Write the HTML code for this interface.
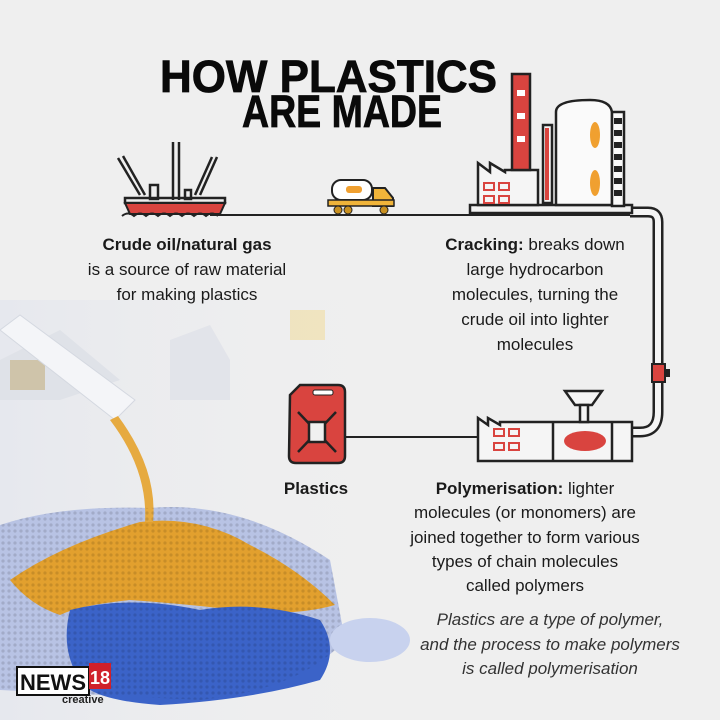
<!DOCTYPE html>
<html><head><meta charset="utf-8"><style>
html,body{margin:0;padding:0;background:#efefef}
svg{display:block}
text{font-family:"Liberation Sans",sans-serif}
</style></head><body>
<svg width="720" height="720" viewBox="0 0 720 720" xmlns="http://www.w3.org/2000/svg">
<defs>
<linearGradient id="fade" x1="0" y1="0" x2="1" y2="0"><stop offset="0" stop-color="#e6e8ee"/><stop offset="1" stop-color="#efefef" stop-opacity="0"/></linearGradient>
<pattern id="dots" width="6" height="6" patternUnits="userSpaceOnUse"><circle cx="3" cy="3" r="1.6" fill="#000" opacity="0.12"/></pattern>
</defs>
<rect width="720" height="720" fill="#efefef"/>
<rect x="0" y="300" width="420" height="420" fill="url(#fade)"/>
<polygon points="0,360 60,330 120,380 60,400 0,400" fill="#dfe2e8"/>
<polygon points="170,340 210,325 230,360 230,400 170,400" fill="#e2e4ea"/>
<rect x="10" y="360" width="35" height="30" fill="#c8b890" opacity="0.7"/>
<rect x="290" y="310" width="35" height="30" fill="#f0dca0" opacity="0.6"/>
<polygon points="0,330 20,315 135,400 115,420" fill="#f4f5f8" stroke="#d4d8e0"/>
<path d="M0,525 Q60,505 150,508 Q240,500 330,560 L345,640 Q300,690 200,700 L0,690 Z" fill="#b8c3e4"/>
<path d="M10,580 Q60,545 140,522 Q200,515 250,545 Q300,570 335,605 Q300,615 250,612 Q200,605 130,600 Q80,605 60,615 Q30,605 10,580 Z" fill="#e2a02e"/>
<path d="M145,522 Q148,470 110,420 L118,416 Q158,470 153,522 Z" fill="#e6aa40"/>
<path d="M70,610 Q130,595 200,610 Q260,600 320,620 Q340,650 320,680 Q250,700 160,705 Q90,700 80,680 Q60,650 70,610 Z" fill="#3b63c8"/>
<path d="M0,525 Q60,505 150,508 Q240,500 330,560 L345,640 Q300,690 200,700 L0,690 Z" fill="url(#dots)"/>
<ellipse cx="370" cy="640" rx="40" ry="22" fill="#c8d2ee"/>
<rect x="17" y="667" width="72" height="28" fill="#fff" stroke="#111" stroke-width="2"/>
<text x="20" y="690" font-size="22" font-weight="bold" fill="#111" textLength="66">NEWS</text>
<rect x="89" y="663" width="22" height="26" fill="#d0202a"/>
<text x="90" y="684" font-size="18" font-weight="bold" fill="#fff">18</text>
<text x="62" y="703" font-size="11" font-weight="bold" fill="#222">creative</text>

<text x="160" y="92" font-size="45" font-weight="bold" fill="#0a0a0a" textLength="337" lengthAdjust="spacingAndGlyphs" stroke="#0a0a0a" stroke-width="0.8">HOW PLASTICS</text>
<text x="242" y="127" font-size="45" font-weight="bold" fill="#0a0a0a" textLength="200" lengthAdjust="spacingAndGlyphs" stroke="#0a0a0a" stroke-width="0.8">ARE MADE</text>

<line x1="210" y1="215" x2="640" y2="215" stroke="#222" stroke-width="2"/>
<path d="M630,212 L648,212 Q658,212 658,222 L658,412 Q658,432 640,432 L630,432" fill="none" stroke="#222" stroke-width="11"/>
<path d="M630,212 L648,212 Q658,212 658,222 L658,412 Q658,432 640,432 L630,432" fill="none" stroke="#f4f4f4" stroke-width="6"/>
<rect x="652" y="364" width="13" height="18" fill="#d9443f" stroke="#222" stroke-width="2"/>
<rect x="665" y="369" width="5" height="8" fill="#222"/>

<g stroke="#222" stroke-width="2.5" fill="none">
<line x1="173" y1="142" x2="173" y2="200"/><line x1="179" y1="142" x2="179" y2="200"/>
<line x1="118" y1="158" x2="140" y2="195"/><line x1="123" y1="156" x2="145" y2="195"/>
<line x1="212" y1="157" x2="195" y2="195"/><line x1="217" y1="157" x2="200" y2="195"/>
<rect x="150" y="185" width="8" height="14"/><rect x="185" y="190" width="6" height="9"/>
<rect x="125" y="198" width="100" height="5"/>
</g>
<path d="M125,203 L225,203 L220,214 L130,214 Z" fill="#d9443f" stroke="#222" stroke-width="2"/>
<path d="M122,216 q6,-5 12,0 q6,-5 12,0 q6,-5 12,0 q6,-5 12,0 q6,-5 12,0 q6,-5 12,0 q6,-5 12,0 q6,-5 12,0" fill="none" stroke="#222" stroke-width="2"/>

<rect x="332" y="180" width="40" height="20" rx="9" fill="#fff" stroke="#222" stroke-width="2"/>
<rect x="346" y="186" width="16" height="7" rx="3" fill="#f0a030"/>
<path d="M373,188 L385,188 L393,198 L393,206 L373,206 Z" fill="#f0b43a" stroke="#222" stroke-width="2"/>
<rect x="328" y="200" width="66" height="6" fill="#f0b43a" stroke="#222" stroke-width="1.5"/>
<circle cx="338" cy="210" r="4" fill="#c89020" stroke="#222"/><circle cx="348" cy="210" r="4" fill="#c89020" stroke="#222"/><circle cx="384" cy="210" r="4" fill="#c89020" stroke="#222"/>

<g stroke="#222" stroke-width="2.5">
<rect x="470" y="205" width="162" height="8" fill="#f2f2f2"/>
<path d="M478,205 L478,163 L490,172 L490,163 L505,172 L505,170 L538,170 L538,205 Z" fill="#f5f5f5"/>
<rect x="512" y="74" width="18" height="96" fill="#d9443f"/>
<path d="M543,203 L543,125 L552,125 L552,203 Z" fill="#f5f5f5"/>
<path d="M556,205 L556,112 Q556,100 590,100 Q610,100 612,112 L612,205 Z" fill="#fafafa"/>
<rect x="612" y="112" width="12" height="94" fill="#fafafa"/>
</g>
<g fill="#fff"><rect x="517" y="90" width="8" height="6"/><rect x="517" y="113" width="8" height="6"/><rect x="517" y="136" width="8" height="6"/></g>
<line x1="547" y1="128" x2="547" y2="200" stroke="#d9443f" stroke-width="4"/>
<g fill="#222"><rect x="614" y="118" width="8" height="6"/><rect x="614" y="130" width="8" height="6"/><rect x="614" y="142" width="8" height="6"/><rect x="614" y="154" width="8" height="6"/><rect x="614" y="166" width="8" height="6"/><rect x="614" y="178" width="8" height="6"/><rect x="614" y="190" width="8" height="6"/></g>
<g fill="#f0a030"><ellipse cx="595" cy="135" rx="5" ry="13"/><ellipse cx="595" cy="183" rx="5" ry="13"/></g>
<g fill="none" stroke="#d9443f" stroke-width="2"><rect x="484" y="183" width="10" height="7"/><rect x="499" y="183" width="10" height="7"/><rect x="484" y="196" width="10" height="7"/><rect x="499" y="196" width="10" height="7"/></g>

<line x1="345" y1="437" x2="485" y2="437" stroke="#222" stroke-width="2"/>
<path d="M290,395 L300,385 L338,385 Q345,385 345,392 L345,456 Q345,463 338,463 L296,463 Q289,463 289,456 Z" fill="#d9443f" stroke="#222" stroke-width="2.5"/>
<rect x="313" y="390" width="20" height="5" rx="2" fill="#fff" stroke="#222"/>
<g stroke="#222" stroke-width="2.5"><line x1="298" y1="412" x2="336" y2="452"/><line x1="336" y1="412" x2="298" y2="452"/></g>
<rect x="309" y="422" width="16" height="20" fill="#f0f0f0" stroke="#222" stroke-width="2.5"/>

<g stroke="#222" stroke-width="2.5">
<path d="M478,461 L478,418 L488,425 L488,418 L500,425 L500,422 L632,422 L632,461 Z" fill="#f5f5f5"/>
<line x1="553" y1="422" x2="553" y2="461"/><line x1="612" y1="422" x2="612" y2="461"/>
<path d="M565,391 L602,391 L592,405 L575,405 Z" fill="#f5f5f5"/>
<rect x="580" y="405" width="8" height="17" fill="#f5f5f5"/>
</g>
<ellipse cx="585" cy="441" rx="21" ry="10" fill="#d9443f"/>
<g fill="none" stroke="#d9443f" stroke-width="2"><rect x="494" y="429" width="10" height="7"/><rect x="509" y="429" width="10" height="7"/><rect x="494" y="443" width="10" height="7"/><rect x="509" y="443" width="10" height="7"/></g>

<g font-size="17" fill="#1a1a1a" text-anchor="middle">
<text x="187" y="250" font-weight="bold">Crude oil/natural gas</text>
<text x="187" y="275">is a source of raw material</text>
<text x="187" y="300">for making plastics</text>
<text x="535" y="250"><tspan font-weight="bold">Cracking:</tspan> breaks down</text>
<text x="535" y="275">large hydrocarbon</text>
<text x="535" y="300">molecules, turning the</text>
<text x="535" y="325">crude oil into lighter</text>
<text x="535" y="350">molecules</text>
<text x="316" y="494" font-weight="bold">Plastics</text>
<text x="525" y="494"><tspan font-weight="bold">Polymerisation:</tspan> lighter</text>
<text x="525" y="518">molecules (or monomers) are</text>
<text x="525" y="543">joined together to form various</text>
<text x="525" y="567">types of chain molecules</text>
<text x="525" y="591">called polymers</text>
</g>
<g font-size="17" fill="#333" text-anchor="middle" font-style="italic">
<text x="550" y="625">Plastics are a type of polymer,</text>
<text x="550" y="650">and the process to make polymers</text>
<text x="550" y="674">is called polymerisation</text>
</g>
</svg>
</body></html>
